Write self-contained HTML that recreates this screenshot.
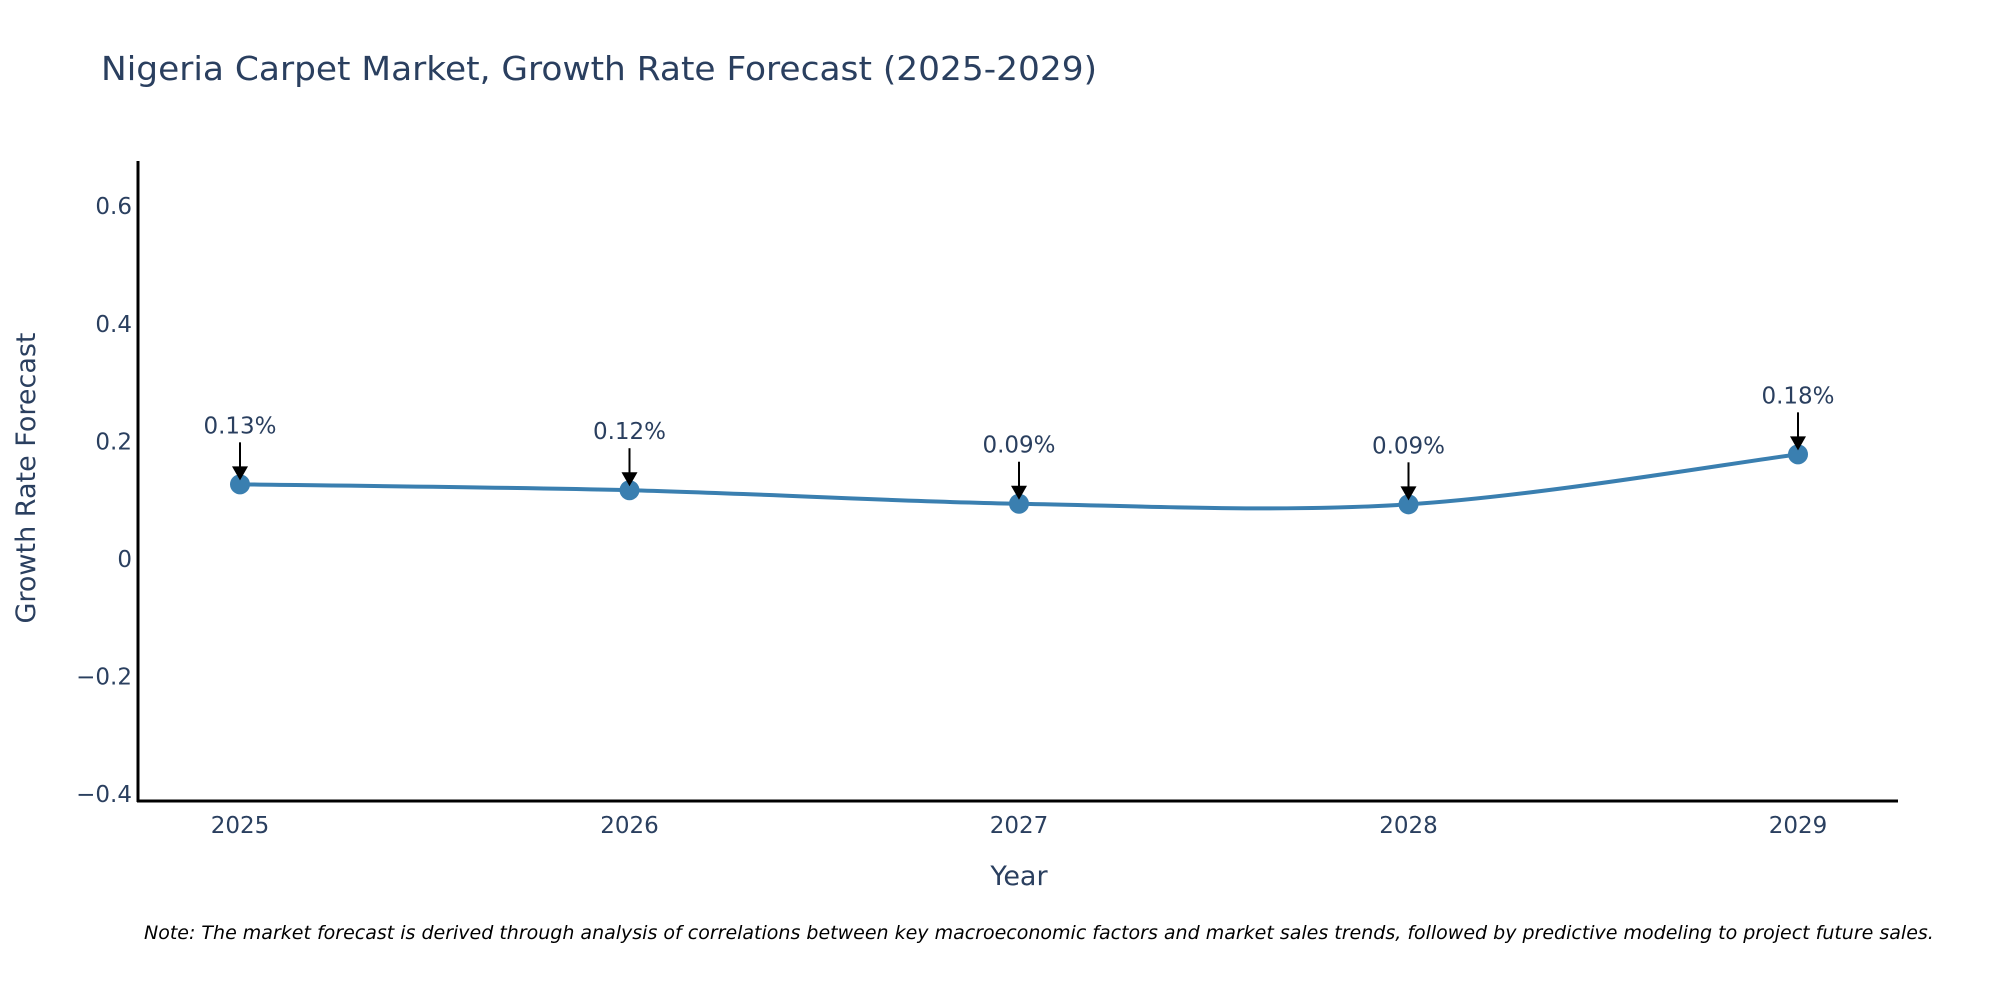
<!DOCTYPE html>
<html><head><meta charset="utf-8"><style>
html,body{margin:0;padding:0;background:#fff;width:2000px;height:1000px;overflow:hidden}
svg text{font-family:"DejaVu Sans","Liberation Sans",sans-serif;fill:#2a3f5f}
</style></head><body>
<svg id="chart" width="2000" height="1000" xmlns="http://www.w3.org/2000/svg">
<text x="101" y="80" font-size="33" textLength="996" lengthAdjust="spacingAndGlyphs">Nigeria Carpet Market, Growth Rate Forecast (2025-2029)</text>
<g id="yticks"></g>
<g id="xticks"></g>
<line x1="138" y1="161" x2="138" y2="802" stroke="#000" stroke-width="3"/>
<line x1="137" y1="801" x2="1898" y2="801" stroke="#000" stroke-width="3"/>
<text transform="translate(35,478) rotate(-90)" text-anchor="middle" font-size="27">Growth Rate Forecast</text>
<text x="1019" y="885" text-anchor="middle" font-size="27">Year</text>
<g id="series"></g>
<g id="annots"></g>
<text x="144" y="939" font-size="19" font-style="italic" fill="#000" style="fill:#000">Note: The market forecast is derived through analysis of correlations between key macroeconomic factors and market sales trends, followed by predictive modeling to project future sales.</text>
</svg>
<script>
const years = ["2025","2026","2027","2028","2029"];
const values = [0.127, 0.117, 0.094, 0.093, 0.178];
const labels = ["0.13%","0.12%","0.09%","0.09%","0.18%"];
const yTicks = [0.6, 0.4, 0.2, 0, -0.2, -0.4];
const yTickLabels = ["0.6","0.4","0.2","0","\u22120.2","\u22120.4"];

const NS = "http://www.w3.org/2000/svg";
function xScale(i){ return 240 + i * (1798 - 240) / 4; }
function yScale(v){ return 559 - v * 588; }
function mk(tag, attrs, parent){ const e=document.createElementNS(NS,tag); for(const k in attrs) e.setAttribute(k,attrs[k]); parent.appendChild(e); return e; }

const yg=document.getElementById('yticks');
yTicks.forEach((t,i)=>{
  const el=mk('text',{x:132,y:yScale(t)+8,'text-anchor':'end','font-size':23},yg);
  
  
  el.textContent=yTickLabels[i];
});
const xg=document.getElementById('xticks');
years.forEach((y,i)=>{
  const el=mk('text',{x:xScale(i),y:833,'text-anchor':'middle','font-size':23},xg);
  
  
  el.textContent=y;
});

// spline path (Catmull-Rom style)
const pts=values.map((v,i)=>[xScale(i),yScale(v)]);
let d=`M${pts[0][0]},${pts[0][1]}`;
const s=0.5/3*2;
for(let i=0;i<pts.length-1;i++){
  const p0=pts[Math.max(i-1,0)],p1=pts[i],p2=pts[i+1],p3=pts[Math.min(i+2,pts.length-1)];
  const c1=[p1[0]+(p2[0]-p0[0])*s/2,p1[1]+(p2[1]-p0[1])*s/2];
  const c2=[p2[0]-(p3[0]-p1[0])*s/2,p2[1]-(p3[1]-p1[1])*s/2];
  d+=` C${c1[0]},${c1[1]} ${c2[0]},${c2[1]} ${p2[0]},${p2[1]}`;
}
const sg=document.getElementById('series');
const line=mk('path',{d:d,fill:'none',stroke:'#3a7fb0','stroke-width':4},sg);


pts.forEach(p=>{
  const c=mk('circle',{cx:p[0],cy:p[1],r:10,fill:'#3a7fb0'},sg);
  
  
});
const ag=document.getElementById('annots');
pts.forEach((p,i)=>{
  const l=mk('line',{x1:p[0],y1:p[1]-42,x2:p[0],y2:p[1]-14,stroke:'#000','stroke-width':2},ag);
  
  
  const h=mk('polygon',{points:`${p[0]-8},${p[1]-18} ${p[0]+8},${p[1]-18} ${p[0]},${p[1]-4}`,fill:'#000'},ag);
  
  
  const t=mk('text',{x:p[0],y:p[1]-51,'text-anchor':'middle','font-size':23},ag);
  
  
  t.textContent=labels[i];
});
</script>
</body></html>
